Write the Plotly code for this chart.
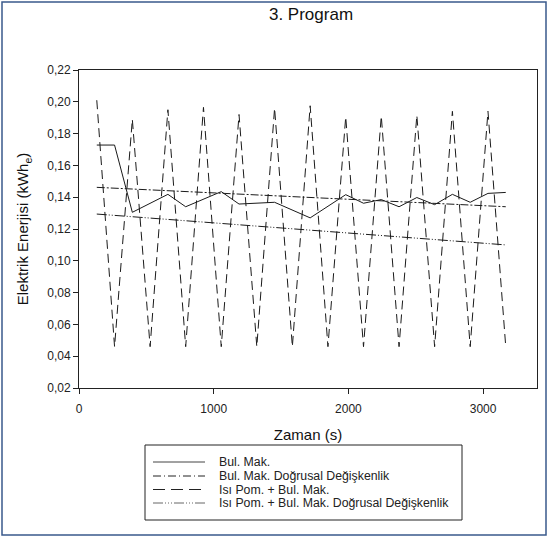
import plotly.graph_objects as go

# Data
bul_x = [132, 264, 396, 660, 792, 1056, 1188, 1452, 1716, 1980, 2112, 2244, 2376, 2508, 2640, 2772, 2904, 3036, 3168]
bul_y = [0.1728, 0.1728, 0.1305, 0.1418, 0.1340, 0.1435, 0.1357, 0.1368, 0.1270, 0.1416, 0.1362, 0.1385,
         0.1340, 0.1398, 0.1353, 0.1418, 0.1368, 0.1424, 0.1430]

bul_lin_x = [132, 3168]
bul_lin_y = [0.1462, 0.1340]

isi_x = [132, 264, 396, 528, 660, 792, 924, 1056, 1188, 1320, 1452, 1584, 1716, 1848, 1980, 2112,
         2244, 2376, 2508, 2640, 2772, 2904, 3036, 3168]
isi_y = [0.201, 0.046, 0.189, 0.046, 0.195, 0.046, 0.1965, 0.046, 0.192, 0.046, 0.196, 0.046,
         0.1975, 0.046, 0.1905, 0.046, 0.191, 0.046, 0.1915, 0.046, 0.194, 0.046, 0.194, 0.046]

isi_lin_x = [132, 3168]
isi_lin_y = [0.1294, 0.1100]

names = ["Bul. Mak.", "Bul. Mak. Doğrusal Değişkenlik", "Isı Pom. + Bul. Mak.",
         "Isı Pom. + Bul. Mak. Doğrusal Değişkenlik"]

x_ticks = [0, 1000, 2000, 3000]
y_ticks = [0.02, 0.04, 0.06, 0.08, 0.10, 0.12, 0.14, 0.16, 0.18, 0.20, 0.22]

LINE_COLOR = "#1a1a1a"
dashes = ["solid", "8px,2px,2px,2px", "9px,5px", "10px,2px,1px,2px,1px,2px"]
legend_dashes = ["solid", "8px,3px,1px,3px", "12px,6px", "10px,2px,1px,2px,1px,2px,1px,2px"]
legend_colors = ["#444", "#222", "#222", "#666"]

fig = go.Figure()
series = [(bul_x, bul_y), (bul_lin_x, bul_lin_y), (isi_x, isi_y), (isi_lin_x, isi_lin_y)]
for (sx, sy), nm, dsh in zip(series, names, dashes):
    fig.add_trace(go.Scatter(x=sx, y=sy, mode="lines", name=nm, showlegend=False,
                             line=dict(color=LINE_COLOR, width=1, dash=dsh)))

W, H = 549, 538
L, R, T, B = 79, 12, 70, 150
pw, ph = W - L - R, H - T - B


def px(v):
    return (v - L) / pw


def py(v):
    return (T + ph - v) / ph


shapes = [dict(type="rect", xref="paper", yref="paper",
               x0=px(2), x1=px(546), y0=py(535), y1=py(2),
               line=dict(color="#3a5a8c", width=1.5), fillcolor="rgba(0,0,0,0)", layer="below"),
          # legend box
          dict(type="rect", xref="paper", yref="paper",
               x0=px(145), x1=px(462), y0=py(520), y1=py(445),
               line=dict(color="#222", width=1), fillcolor="white")]
annotations = []
row_y = [462, 476, 489.5, 503]
for i, nm in enumerate(names):
    shapes.append(dict(type="line", xref="paper", yref="paper",
                       x0=px(153), x1=px(205), y0=py(row_y[i]), y1=py(row_y[i]),
                       line=dict(color=legend_colors[i], width=1, dash=legend_dashes[i])))
    annotations.append(dict(text=nm, xref="paper", yref="paper", x=px(217), y=py(row_y[i]),
                            xanchor="left", yanchor="middle", showarrow=False,
                            font=dict(size=12.3, color="#222")))

fig.update_layout(
    width=W, height=H,
    margin=dict(l=L, r=R, t=T, b=B),
    paper_bgcolor="white", plot_bgcolor="white",
    separators=",.",
    font=dict(family="Liberation Sans, Arial, sans-serif", color="#222", size=12),
    title=dict(text="3. Program", x=311 / W, xanchor="center", y=1 - 14 / H, yanchor="middle",
               font=dict(size=17, color="#111")),
    showlegend=False,
    xaxis=dict(range=[0, 3400], tickvals=x_ticks, ticks="outside", ticklen=5, tickcolor="#222",
               showline=True, linecolor="#222", linewidth=1, mirror=True, showgrid=False, zeroline=False,
               tickfont=dict(size=12, color="#222"), ticklabelstandoff=5,
               title=dict(text="Zaman (s)", font=dict(size=15, color="#111"), standoff=14)),
    yaxis=dict(range=[0.02, 0.22], tickvals=y_ticks, tickformat=".2f", ticks="outside", ticklen=5,
               tickcolor="#222", showline=True, linecolor="#222", linewidth=1, mirror=True,
               showgrid=False, zeroline=False, tickfont=dict(size=12, color="#222"),
               title=dict(text="Elektrik Enerjisi (kWh<sub>e</sub>)", font=dict(size=15, color="#111"),
                          standoff=14)),
    shapes=shapes,
    annotations=annotations,
)

fig.write_html("out.html")
